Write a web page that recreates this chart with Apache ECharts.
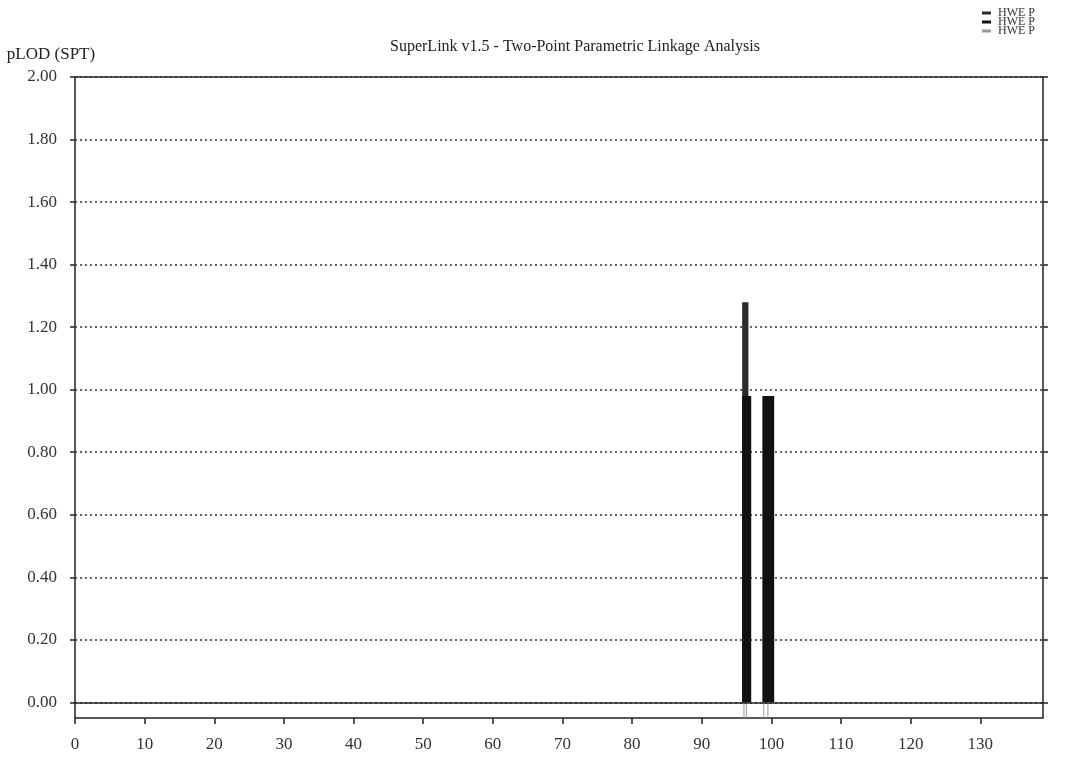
<!DOCTYPE html>
<html>
<head>
<meta charset="utf-8">
<script src="https://cdn.jsdelivr.net/npm/echarts@6/dist/echarts.min.js"></script>
<style>html,body{margin:0;padding:0;background:#fff}#c{width:1080px;height:762px}</style>
</head>
<body>
<div id="c"></div>
<script>
// ---- data ----
const titleText = 'SuperLink v1.5 - Two-Point Parametric Linkage Analysis';
const yAxisName = 'pLOD (SPT)';
const legendNames = ['HWE P', 'HWE P', 'HWE P'];
const xTicks = [0, 10, 20, 30, 40, 50, 60, 70, 80, 90, 100, 110, 120, 130];
const yTicks = [0, 0.2, 0.4, 0.6, 0.8, 1.0, 1.2, 1.4, 1.6, 1.8, 2.0];
// [start cM, end cM, pLOD]
const seriesA = [[95.8, 96.7, 1.28]];
const seriesB = [[95.8, 97.1, 0.98], [98.7, 100.4, 0.98]];
// marker positions (cM) drawn below the zero line
const seriesC = [96.06, 96.4, 98.9, 99.5];

const chart = echarts.init(document.getElementById('c'));
const font = 'Liberation Serif, Times New Roman, serif';

function barRender(params, api) {
  const p0 = api.coord([api.value(0), api.value(2)]);
  const p1 = api.coord([api.value(1), 0]);
  return {
    type: 'rect',
    shape: {x: p0[0], y: p0[1], width: p1[0] - p0[0], height: p1[1] - p0[1]},
    style: {fill: api.visual('color')}
  };
}
function markRender(params, api) {
  const a = api.coord([api.value(0), 0]);
  const b = api.coord([api.value(0), -0.05]);
  return {
    type: 'line',
    shape: {x1: a[0], y1: a[1], x2: b[0], y2: b[1]},
    style: {stroke: api.visual('color'), lineWidth: 1}
  };
}

chart.setOption({
  animation: false,
  backgroundColor: '#fff',
  title: {
    text: titleText, left: 570, top: 34, textAlign: 'center',
    textStyle: {fontFamily: font, fontSize: 16, fontWeight: 'normal', color: '#222'}
  },
  legend: {
    orient: 'vertical', right: 40, top: 2, itemGap: -3,
    icon: 'rect', itemWidth: 9, itemHeight: 3,
    data: ['A', 'B', 'C'],
    formatter: function (n) { return legendNames[['A', 'B', 'C'].indexOf(n)]; },
    textStyle: {fontFamily: font, fontSize: 12, color: '#333', padding: [0, 0, 0, 2]}
  },
  grid: {
    left: 75, right: 37, top: 77, bottom: 44,
    show: true, borderColor: '#222', borderWidth: 1.5, backgroundColor: 'transparent'
  },
  xAxis: {
    type: 'value', min: 0, max: 139, interval: 10,
    axisLine: {show: false, onZero: false},
    axisTick: {show: true, inside: false, length: 6, lineStyle: {color: '#222', width: 1.5}, customValues: xTicks},
    axisLabel: {customValues: xTicks, fontFamily: font, fontSize: 17, color: '#333', margin: 18},
    splitLine: {show: false}
  },
  yAxis: [{
    type: 'value', min: -0.05, max: 2,
    name: yAxisName, nameLocation: 'end', nameGap: 14,
    nameTextStyle: {fontFamily: font, fontSize: 17, color: '#222', align: 'center', padding: [0, 0, 0, -48]},
    axisLine: {show: false},
    axisTick: {show: true, length: 5, lineStyle: {color: '#222', width: 1.5}, customValues: yTicks},
    axisLabel: {customValues: yTicks, fontFamily: font, fontSize: 17, color: '#333', margin: 18,
      formatter: v => v.toFixed(2)},
    splitLine: {show: true, lineStyle: {type: [2, 3], color: '#333', width: 1.5}}
  }, {
    type: 'value', min: -0.05, max: 2, position: 'right',
    axisLine: {show: false},
    axisTick: {show: true, length: 5, lineStyle: {color: '#222', width: 1.5}, customValues: yTicks},
    axisLabel: {show: false},
    splitLine: {show: false}
  }],
  series: [{
    name: 'A', type: 'custom', renderItem: barRender, color: '#2a2a2a',
    encode: {x: [0, 1], y: 2}, data: seriesA, clip: false,
    markLine: {silent: true, symbol: 'none', label: {show: false},
      lineStyle: {type: 'solid', color: '#222', width: 1.5}, data: [{yAxis: 0}]}
  }, {
    name: 'B', type: 'custom', renderItem: barRender, color: '#111',
    encode: {x: [0, 1], y: 2}, data: seriesB, clip: false
  }, {
    name: 'C', type: 'custom', renderItem: markRender, color: '#999',
    encode: {x: 0}, data: seriesC.map(v => [v]), clip: false
  }]
});
</script>
</body>
</html>
